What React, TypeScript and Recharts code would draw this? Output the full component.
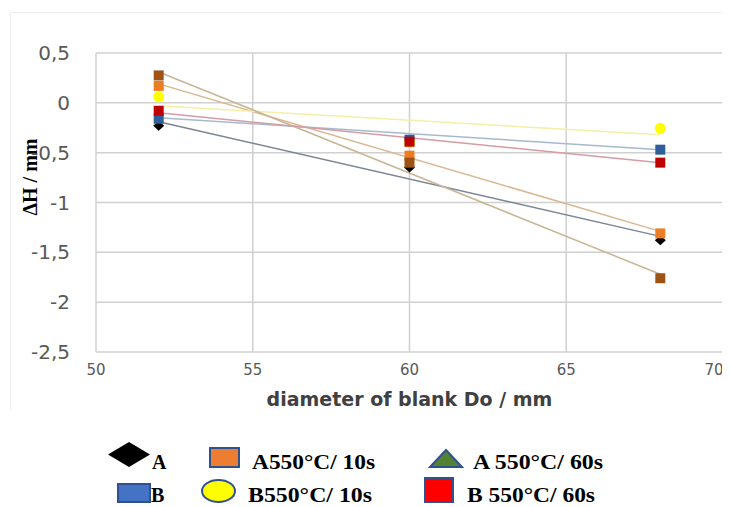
import React from 'react';
import { ComposedChart, Scatter, XAxis, YAxis, CartesianGrid } from 'recharts';

// ---- data ----
const diameters = [52, 60, 68];
const valuesA = [-0.23, -0.65, -1.38];
const valuesB = [-0.16, -0.37, -0.47];
const valuesA10 = [0.17, -0.53, -1.31];
const valuesB10 = [0.06, -0.4, -0.255];
const valuesA60 = [0.275, -0.6, -1.76];
const valuesB60 = [-0.08, -0.39, -0.6];

// trend line end points
const trendX = [52, 68];
const trendA = [-0.19, -1.34];
const trendB = [-0.15, -0.47];
const trendA10 = [0.19, -1.29];
const trendB10 = [-0.03, -0.32];
const trendA60 = [0.31, -1.72];
const trendB60 = [-0.1, -0.6];

const xTicks = [50, 55, 60, 65, 70];
const yTicks = [0.5, 0, -0.5, -1, -1.5, -2, -2.5];

const legendLabels = ['A', 'A550°C/ 10s', 'A 550°C/ 60s', 'B', 'B550°C/ 10s', 'B 550°C/ 60s'];

const toPts = (xs: number[], ys: number[]) => xs.map((x, i) => ({ x, y: ys[i] }));

const fmt = (v: number) => String(v).replace('.', ',');

const makeSquare = (fill: string) => (p: any) => (
  <rect x={p.cx - 5} y={p.cy - 5} width={10} height={10} fill={fill} />
);
const diamondShape = (p: any) => (
  <polygon
    points={`${p.cx},${p.cy - 5} ${p.cx + 5.5},${p.cy} ${p.cx},${p.cy + 5} ${p.cx - 5.5},${p.cy}`}
    fill="#000000"
  />
);
const circleShape = (p: any) => <circle cx={p.cx} cy={p.cy} r={5.5} fill="#FFFF00" />;
const noShape = () => <g />;

const renderXTick = (props: any) => {
  const { x, y, payload } = props;
  const tx = Math.min(Number(x), 706);
  return (
    <text
      x={tx}
      y={y}
      dy="0.71em"
      textAnchor="middle"
      fill="#595959"
      fontSize={15}
      fontFamily="'DejaVu Sans', sans-serif"
    >
      {payload.value}
    </text>
  );
};

const renderYLabel = () => (
  <text
    x={29}
    y={169}
    transform="rotate(-90 29 169)"
    textAnchor="middle"
    fontFamily="'Liberation Serif', 'Times New Roman', serif"
    fontWeight="bold"
    fontSize={20}
    fill="#000"
  >
    ΔH / mm
  </text>
);

const renderXLabel = (props: any) => {
  const vb = props.viewBox || {};
  const cx = (vb.x ?? 88) + (vb.width ?? 627) / 2;
  return (
    <text
      x={cx}
      y={398}
      textAnchor="middle"
      fontFamily="'DejaVu Sans', sans-serif"
      fontWeight="bold"
      fontSize={19}
      fill="#404040"
    >
      diameter of blank Do / mm
    </text>
  );
};

const serif = "'Liberation Serif', 'Times New Roman', serif";
const ICON_STROKE = '#2F528F';

const LegendBlock = () => (
  <svg
    width={722}
    height={499}
    style={{ position: 'absolute', left: 0, top: 0, pointerEvents: 'none' }}
  >
    <g fontFamily={serif} fontWeight="bold" fontSize={20} fill="#000">
      {/* row 1 */}
      <polygon points="100,446.5 121,434 142,446.5 121,459" fill="#000" />
      <text x={144} y={461}>{legendLabels[0]}</text>
      <rect x={202} y={440} width={29} height={19} fill="#ED7D31" stroke={ICON_STROKE} strokeWidth={2} />
      <text x={244} y={461} textLength={123} lengthAdjust="spacingAndGlyphs">{legendLabels[1]}</text>
      <polygon points="438,442 454,459 422,459" fill="#548235" stroke={ICON_STROKE} strokeWidth={2} />
      <text x={465} y={461} textLength={130} lengthAdjust="spacingAndGlyphs">{legendLabels[2]}</text>
      {/* row 2 */}
      <rect x={110} y={476} width={32} height={18} fill="#4472C4" stroke={ICON_STROKE} strokeWidth={2} />
      <text x={143} y={494}>{legendLabels[3]}</text>
      <ellipse cx={210.5} cy={483} rx={16.5} ry={11} fill="#FFFF00" stroke={ICON_STROKE} strokeWidth={2} />
      <text x={240} y={494} textLength={124} lengthAdjust="spacingAndGlyphs">{legendLabels[4]}</text>
      <rect x={417} y={470} width={28} height={24} fill="#FF0000" stroke={ICON_STROKE} strokeWidth={2} />
      <text x={459} y={494} textLength={128} lengthAdjust="spacingAndGlyphs">{legendLabels[5]}</text>
    </g>
  </svg>
);

export default function App() {
  return (
    <div style={{ position: 'relative', width: 722, height: 499 }}>
      <style>{`html,body{overflow:hidden;}`}</style>
      <div
        style={{
          position: 'absolute',
          left: 2,
          top: 4,
          width: 720,
          height: 398,
          borderTop: '1px solid #eeeeee',
          borderLeft: '1px solid #eeeeee',
          boxSizing: 'border-box',
        }}
      />
      <ComposedChart width={722} height={420} margin={{ top: 45, right: 7, bottom: 46, left: 0 }}>
        <CartesianGrid stroke="#d0d0d0" strokeWidth={1.5} />
        <XAxis
          type="number"
          dataKey="x"
          domain={[50, 70]}
          ticks={xTicks}
          interval={0}
          height={30}
          axisLine={false}
          tickLine={false}
          tickSize={0}
          tickMargin={12}
          tick={renderXTick}
          label={{ value: 'diameter of blank Do / mm', content: renderXLabel }}
        />
        <YAxis
          type="number"
          dataKey="y"
          domain={[-2.5, 0.5]}
          ticks={yTicks}
          interval={0}
          width={88}
          axisLine={false}
          tickLine={false}
          tickSize={0}
          tickMargin={26}
          tickFormatter={fmt}
          tick={{ fill: '#595959', fontSize: 20, fontFamily: "'DejaVu Sans', sans-serif" }}
          label={{ value: 'ΔH / mm', content: renderYLabel }}
        />
        {/* trend lines */}
        <Scatter data={toPts(trendX, trendA)} line={{ stroke: '#7B8594', strokeWidth: 1.5 }} shape={noShape} isAnimationActive={false} />
        <Scatter data={toPts(trendX, trendB)} line={{ stroke: '#A7B9CF', strokeWidth: 1.5 }} shape={noShape} isAnimationActive={false} />
        <Scatter data={toPts(trendX, trendA10)} line={{ stroke: '#D9B690', strokeWidth: 1.5 }} shape={noShape} isAnimationActive={false} />
        <Scatter data={toPts(trendX, trendB10)} line={{ stroke: '#F3EFA6', strokeWidth: 1.5 }} shape={noShape} isAnimationActive={false} />
        <Scatter data={toPts(trendX, trendA60)} line={{ stroke: '#C8B595', strokeWidth: 1.5 }} shape={noShape} isAnimationActive={false} />
        <Scatter data={toPts(trendX, trendB60)} line={{ stroke: '#D49CA4', strokeWidth: 1.5 }} shape={noShape} isAnimationActive={false} />
        {/* measured points */}
        <Scatter data={toPts(diameters, valuesA)} shape={diamondShape} isAnimationActive={false} />
        <Scatter data={toPts(diameters, valuesB)} shape={makeSquare('#2F5F98')} isAnimationActive={false} />
        <Scatter data={toPts(diameters, valuesA10)} shape={makeSquare('#ED7D22')} isAnimationActive={false} />
        <Scatter data={toPts(diameters, valuesB10)} shape={circleShape} isAnimationActive={false} />
        <Scatter data={toPts(diameters, valuesA60)} shape={makeSquare('#9E5316')} isAnimationActive={false} />
        <Scatter data={toPts(diameters, valuesB60)} shape={makeSquare('#C00000')} isAnimationActive={false} />
      </ComposedChart>
      <LegendBlock />
    </div>
  );
}
